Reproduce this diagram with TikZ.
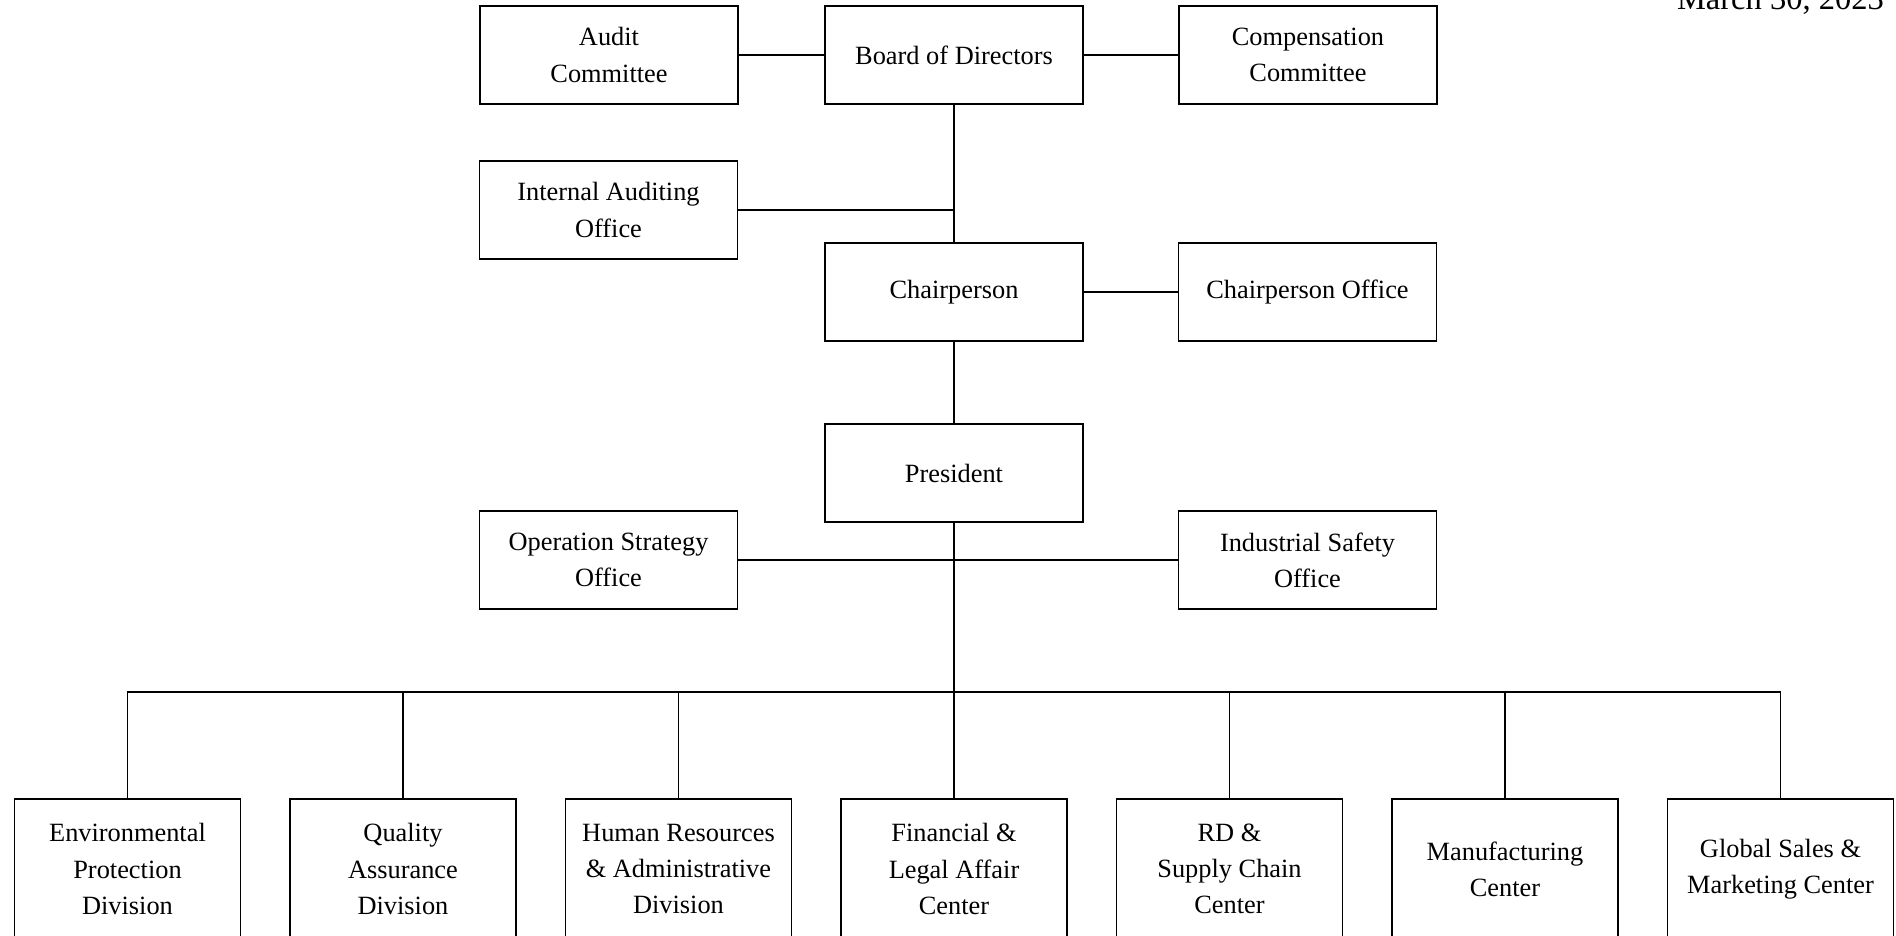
\documentclass[tikz,border=0pt]{standalone}
\usepackage{fontspec}
\setmainfont{Liberation Serif}
\usetikzlibrary{positioning}

\begin{document}
\begin{tikzpicture}[
    orgbox/.style={rectangle, draw=black, line width=1.1pt,
        minimum width=5.16cm, minimum height=1.96cm,
        text centered, align=center, inner sep=2pt,
        font=\fontsize{15}{20.6}\selectfont},
    unitbox/.style={rectangle, draw=black, line width=1.1pt,
        minimum width=4.52cm, minimum height=2.8cm,
        text centered, align=center, inner sep=2pt,
        font=\fontsize{15}{20.6}\selectfont},
    link/.style={line width=1.1pt, color=black},
    datenote/.style={font=\fontsize{18.5}{22}\selectfont, anchor=base east},
]
\useasboundingbox (0,0) rectangle (37.92,-18.70);

% ── DATE (top right, partly cut off) ────────────────────────────────────────
\node[datenote] (date) at (37.80,-0.18) {March 30, 2023};

% ── BOARD ROW ───────────────────────────────────────────────────────────────
\node[orgbox] at (12.18, -1.10) (audit) {Audit\\Committee};
\node[orgbox] at (19.08, -1.10) (board) {Board of Directors};
\node[orgbox] at (26.16, -1.10) (comp)  {Compensation\\Committee};

\draw[link] (audit) -- (board);
\draw[link] (board) -- (comp);

% ── CHAIRPERSON LEVEL ───────────────────────────────────────────────────────
\node[orgbox] at (12.17, -4.20) (intaudit) {Internal Auditing\\Office};
\node[orgbox] at (19.08, -5.84) (chair)    {Chairperson};
\node[orgbox] at (26.15, -5.84) (chairoff) {Chairperson Office};
\coordinate (iajoin) at (19.08, -4.20);

\draw[link] (board) -- (chair);
\draw[link] (intaudit) -- (iajoin);
\draw[link] (chair) -- (chairoff);

% ── PRESIDENT LEVEL ─────────────────────────────────────────────────────────
\node[orgbox] at (19.08,  -9.46) (pres)     {President};
\node[orgbox] at (12.17, -11.20) (opstrat)  {Operation Strategy\\Office};
\node[orgbox] at (26.15, -11.20) (indsafe)  {Industrial Safety\\Office};

\draw[link] (chair) -- (pres);
\draw[link] (opstrat) -- (indsafe);

% ── DIVISIONS AND CENTERS ───────────────────────────────────────────────────
\node[unitbox] at ( 2.55, -17.38) (env)  {Environmental\\Protection\\Division};
\node[unitbox] at ( 8.06, -17.38) (qa)   {Quality\\Assurance\\Division};
\node[unitbox] at (13.57, -17.38) (hr)   {Human Resources\\\& Administrative\\Division};
\node[unitbox] at (19.08, -17.38) (fin)  {Financial \&\\Legal Affair\\Center};
\node[unitbox] at (24.59, -17.38) (rd)   {RD \&\\Supply Chain\\Center};
\node[unitbox] at (30.10, -17.38) (mfg)  {Manufacturing\\Center};
\node[unitbox] at (35.61, -17.38) (sales){Global Sales \&\\Marketing Center};

\coordinate (busl) at ( 2.55, -13.84);
\coordinate (busr) at (35.61, -13.84);

\draw[link] (pres) -- (fin);
\draw[link] (env.north) -- (busl) -- (busr) -- (sales.north);
\draw[link] (qa.north)  -- (qa.north |- busl);
\draw[link] (hr.north)  -- (hr.north |- busl);
\draw[link] (rd.north)  -- (rd.north |- busl);
\draw[link] (mfg.north) -- (mfg.north |- busl);

\end{tikzpicture}
\end{document}
